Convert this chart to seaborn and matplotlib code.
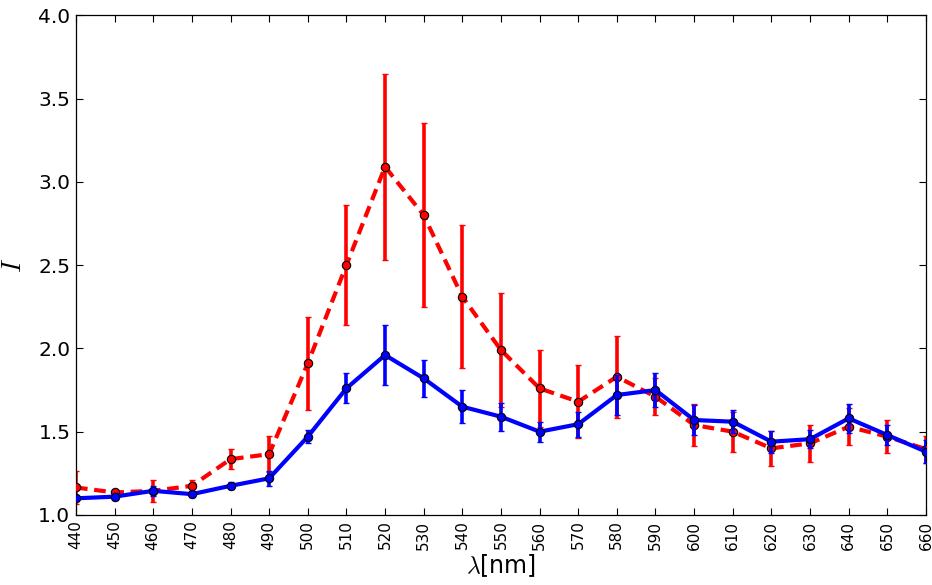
import matplotlib
matplotlib.use("Agg")
import numpy as np
import pandas as pd
import seaborn as sns
import matplotlib.pyplot as plt

# Wavelength grid (nm)
wavelength = [440, 450, 460, 470, 480, 490, 500, 510, 520, 530, 540, 550,
              560, 570, 580, 590, 600, 610, 620, 630, 640, 650, 660]

# Red series: mean intensity and its error
red_mean = [1.165, 1.135, 1.145, 1.175, 1.335, 1.365, 1.91, 2.50, 3.09, 2.80,
            2.31, 1.99, 1.76, 1.68, 1.83, 1.71, 1.54, 1.50, 1.40, 1.43,
            1.53, 1.47, 1.395]
red_err = [0.10, 0.015, 0.065, 0.035, 0.06, 0.11, 0.28, 0.36, 0.56, 0.55,
           0.43, 0.34, 0.23, 0.22, 0.245, 0.11, 0.125, 0.12, 0.105, 0.11,
           0.11, 0.10, 0.08]

# Blue series: mean intensity and its error
blue_mean = [1.10, 1.11, 1.145, 1.125, 1.175, 1.22, 1.47, 1.76, 1.96, 1.82,
             1.65, 1.59, 1.50, 1.545, 1.72, 1.75, 1.57, 1.56, 1.44, 1.455,
             1.58, 1.48, 1.38]
blue_err = [0.015, 0.02, 0.03, 0.02, 0.02, 0.045, 0.04, 0.09, 0.18, 0.11,
            0.10, 0.085, 0.06, 0.075, 0.12, 0.10, 0.09, 0.07, 0.065, 0.055,
            0.085, 0.06, 0.07]

y_ticks = [1.0, 1.5, 2.0, 2.5, 3.0, 3.5, 4.0]

df_red = pd.DataFrame({"wl": wavelength, "I": red_mean, "err": red_err})
df_blue = pd.DataFrame({"wl": wavelength, "I": blue_mean, "err": blue_err})

sns.set_style("white")
plt.rcParams["font.family"] = ["DejaVu Sans"]
plt.rcParams["mathtext.fontset"] = "cm"
plt.rcParams["mathtext.default"] = "it"
plt.rcParams["text.color"] = "black"
plt.rcParams["axes.labelcolor"] = "black"
plt.rcParams["xtick.color"] = "black"
plt.rcParams["ytick.color"] = "black"

fig = plt.figure(figsize=(9.32, 5.85), dpi=100)
ax = fig.add_axes([0.0815, 0.1197, 0.912, 0.8543])

# red: dashed line with error bars
ax.errorbar(df_red["wl"], df_red["I"], yerr=df_red["err"], fmt="none",
            ecolor="red", elinewidth=2.6, capsize=2.5, capthick=1.0, zorder=2)
sns.lineplot(data=df_red, x="wl", y="I", ax=ax, color="red", linewidth=3,
             marker="o", markersize=6, markerfacecolor="red",
             markeredgecolor="black", markeredgewidth=0.8, zorder=3)
ax.lines[-1].set_dashes((2.8, 1.6))

# blue: solid line with error bars
ax.errorbar(df_blue["wl"], df_blue["I"], yerr=df_blue["err"], fmt="none",
            ecolor="blue", elinewidth=2.6, capsize=2.5, capthick=1.0, zorder=4)
sns.lineplot(data=df_blue, x="wl", y="I", ax=ax, color="blue", linewidth=3,
             marker="o", markersize=6, markerfacecolor="blue",
             markeredgecolor="black", markeredgewidth=0.8, zorder=5)

ax.set_xlim(440, 660)
ax.set_ylim(1.0, 4.0)
ax.set_xticks(wavelength)
ax.set_xticklabels([str(w) for w in wavelength], rotation=90, fontsize=11)
ax.set_yticks(y_ticks)
ax.set_yticklabels([f"{v:.1f}" for v in y_ticks], fontsize=14.5)
ax.tick_params(direction="in", length=5, width=0.8, top=True, right=True,
               bottom=True, left=True, color="black", labelcolor="black", pad=4)
for s in ax.spines.values():
    s.set_color("black")
    s.set_linewidth(0.9)
    s.set_visible(True)
ax.grid(False)
ax.set_xlabel(r"$\lambda$[nm]", fontsize=17, labelpad=2)
ax.set_ylabel(r"$I$", fontsize=19, labelpad=8)

fig.savefig("out.png", dpi=100, facecolor="white")
